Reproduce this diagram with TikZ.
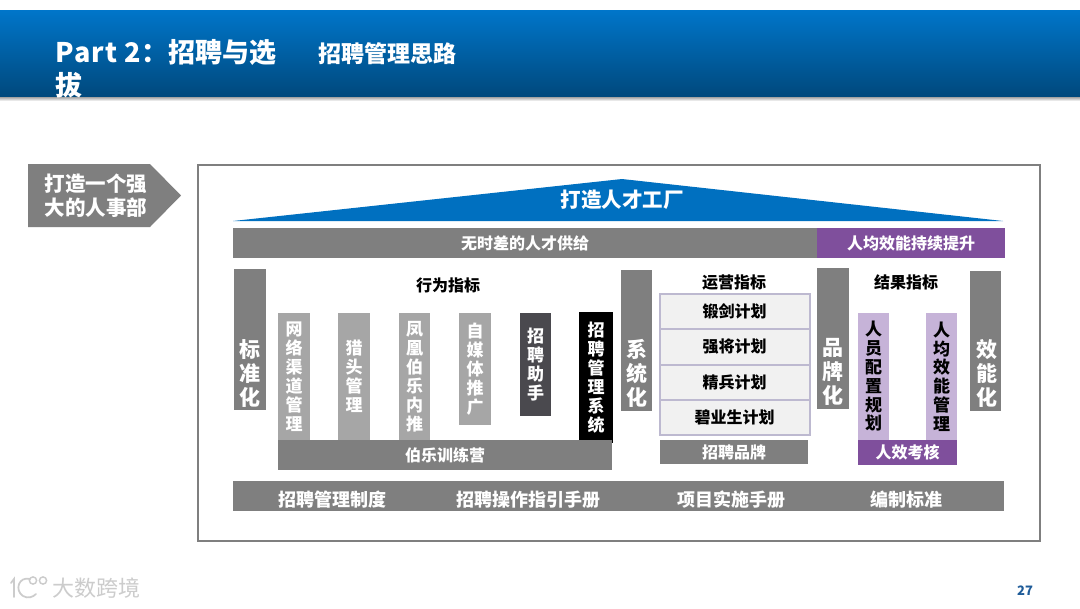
\documentclass[tikz,border=0pt]{standalone}
\usepackage{fontspec}
\setmainfont{Noto Sans CJK SC}
\usetikzlibrary{shapes.geometric,shadings}
\definecolor{barg}{HTML}{7F7F7F}
\definecolor{colg}{HTML}{A6A6A6}
\definecolor{dk}{HTML}{4A494E}
\definecolor{blu}{HTML}{0070C0}
\definecolor{purp}{HTML}{7F4F9C}
\definecolor{lpurp}{HTML}{C6B3D8}
\definecolor{rowb}{HTML}{BDB9D0}
\definecolor{rowf}{HTML}{F1F1F1}
\definecolor{numc}{HTML}{1F5C99}
\newcommand\fsz[1]{\fontsize{\dimexpr#1pt*3/4\relax}{\dimexpr#1pt*9/10\relax}\selectfont\bfseries}
\newcommand\vfs[2]{\fontsize{\dimexpr#1pt*3/4\relax}{\dimexpr#2pt*3/4\relax}\selectfont\bfseries}
% \bx{name}{x0}{y0}{x1}{y1}{style}{text}
\newcommand\bx[7]{\node[boxb,#6,minimum width={(#4-#2)*0.75pt},minimum height={(#5-#3)*0.75pt}] (#1) at ({(#2+#4)/2},{(#3+#5)/2}) {#7};}
\tikzset{
  boxb/.style={inner sep=0pt,outer sep=0pt,align=center,text=white},
  grayb/.style={fill=barg},
  colb/.style={fill=colg,font=\vfs{17}{19}},
  sideb/.style={fill=barg},
  sidet/.style={inner sep=0pt,align=center,text=white,font=\vfs{21}{24}},
  barb/.style={fill=barg,font=\fsz{16}},
  footb/.style={inner sep=0pt,text=white,font=\fsz{18}},
  rowbox/.style={fill=rowf,draw=rowb,line width=1.5pt,text=black,font=\fsz{16}},
  lpb/.style={fill=lpurp,text=black,font=\vfs{17}{18.8}},
  headt/.style={inner sep=0pt,text=black,font=\fsz{16}}
}
\begin{document}
\begin{tikzpicture}[x=0.75pt,y=-0.75pt]
\useasboundingbox (0,0) rectangle (1080,608);
\fill[white] (0,0) rectangle (1080,608);
% header band
\shade[top color=black!45,bottom color=white] (0,96) rectangle (1080,101);
\shade[top color=blu!105!black,bottom color=blu!65!black] (0,10) rectangle (1080,96);
\node[anchor=base west,inner sep=0pt,text=white,font=\fsz{27}] (title1) at (55,62) {{\addfontfeature{LetterSpace=4.5}Part 2}：招聘与选};
\node[anchor=base west,inner sep=0pt,text=white,font=\fsz{27}] (title2) at (55,95) {拔};
\node[anchor=base west,inner sep=0pt,text=white,font=\fsz{23}] (title3) at (318,62) {招聘管理思路};
% tag
\fill[barg] (28,164) -- (150,164) -- (181,195.5) -- (150,227) -- (28,227) -- cycle;
\node[inner sep=0pt,align=center,text=white,font=\vfs{20.5}{24.5}] (tag) at (96,195.5) {打造一个强\\大的人事部};
% frame
\draw[barg,line width=1.5pt] (197.5,164.5) rectangle (1040,541);
% roof
\fill[blu] (233,221) -- (622,179) -- (1003,221) -- cycle;
\node[inner sep=0pt,text=white,font=\fsz{20.5}] (roof) at (622,200) {打造人才工厂};
% top bars
\bx{supply}{233}{228}{817}{258}{barb}{无时差的人才供给}
\bx{eff}{817}{228}{1005}{258}{barb,fill=purp}{人均效能持续提升}
% side columns
\bx{s1}{234}{269}{266}{410}{sideb}{}
\node[sidet] (s1t) at (249.5,373) {标\\准\\化};
\bx{s2}{621}{270}{652}{411}{sideb}{}
\node[sidet] (s2t) at (636.5,373) {系\\统\\化};
\bx{s3}{817}{268}{849}{409}{sideb}{}
\node[sidet] (s3t) at (833,372) {品\\牌\\化};
\bx{s4}{970}{271}{1001}{411}{sideb}{}
\node[sidet] (s4t) at (986.5,373) {效\\能\\化};
% behaviour
\node[headt] (h1) at (448,285) {行为指标};
\bx{c1}{278}{313}{310}{440}{colb}{网\\络\\渠\\道\\管\\理}
\bx{c2}{338}{313}{370}{440}{colb}{猎\\头\\管\\理}
\bx{c3}{399}{313}{430}{440}{colb}{凤\\凰\\伯\\乐\\内\\推}
\bx{c4}{459}{313}{491}{425}{colb}{自\\媒\\体\\推\\广}
\bx{c5}{520}{313}{551}{416}{colb,fill=dk}{招\\聘\\助\\手}
\bx{c6}{579}{312}{613}{443}{colb,fill=black}{招\\聘\\管\\理\\系\\统}
\bx{bole}{278}{440}{612}{470}{barb}{伯乐训练营}
% operations
\node[headt] (h2) at (734,283) {运营指标};
\bx{r1}{659.5}{294}{809.5}{329}{rowbox}{锻剑计划}
\bx{r2}{659.5}{329}{809.5}{364.5}{rowbox}{强将计划}
\bx{r3}{659.5}{364.5}{809.5}{399.5}{rowbox}{精兵计划}
\bx{r4}{659.5}{399.5}{809.5}{434.5}{rowbox}{碧业生计划}
\bx{brand}{660}{440}{808}{464}{barb}{招聘品牌}
% results
\node[headt] (h3) at (906,282) {结果指标};
\bx{p1}{858}{313}{889}{440}{lpb}{人\\员\\配\\置\\规\\划}
\bx{p2}{926}{313}{957}{440}{lpb}{人\\均\\效\\能\\管\\理}
\bx{p3}{858}{440}{957}{465}{fill=purp,font=\fsz{16}}{人效考核}
% bottom bar
\bx{base}{233}{481}{1004}{511}{grayb}{}
\node[footb] (f1) at (332,500) {招聘管理制度};
\node[footb] (f2) at (528,500) {招聘操作指引手册};
\node[footb] (f3) at (731,500) {项目实施手册};
\node[footb] (f4) at (906,500) {编制标准};
% footer
\node[inner sep=0pt,text=black!20,font=\fontsize{16.5}{20}\selectfont] (wm) at (96,588) {大数跨境};
\draw[black!20,line width=1.3pt,line cap=round] (11,583) -- (14,579) -- (14,597);
\draw[black!20,line width=1.3pt,line cap=round] (30,579) .. controls (19,576) and (14,590) .. (23,596) .. controls (28,599) and (33,597) .. (36,594);
\draw[black!20,line width=1.1pt] (33,580.5) circle (3.6);
\draw[black!20,line width=1.1pt] (43,580.5) circle (3.6);
\node[inner sep=0pt,text=numc,font=\fsz{13}] (pg) at (1025,591) {27};
\end{tikzpicture}
\end{document}
